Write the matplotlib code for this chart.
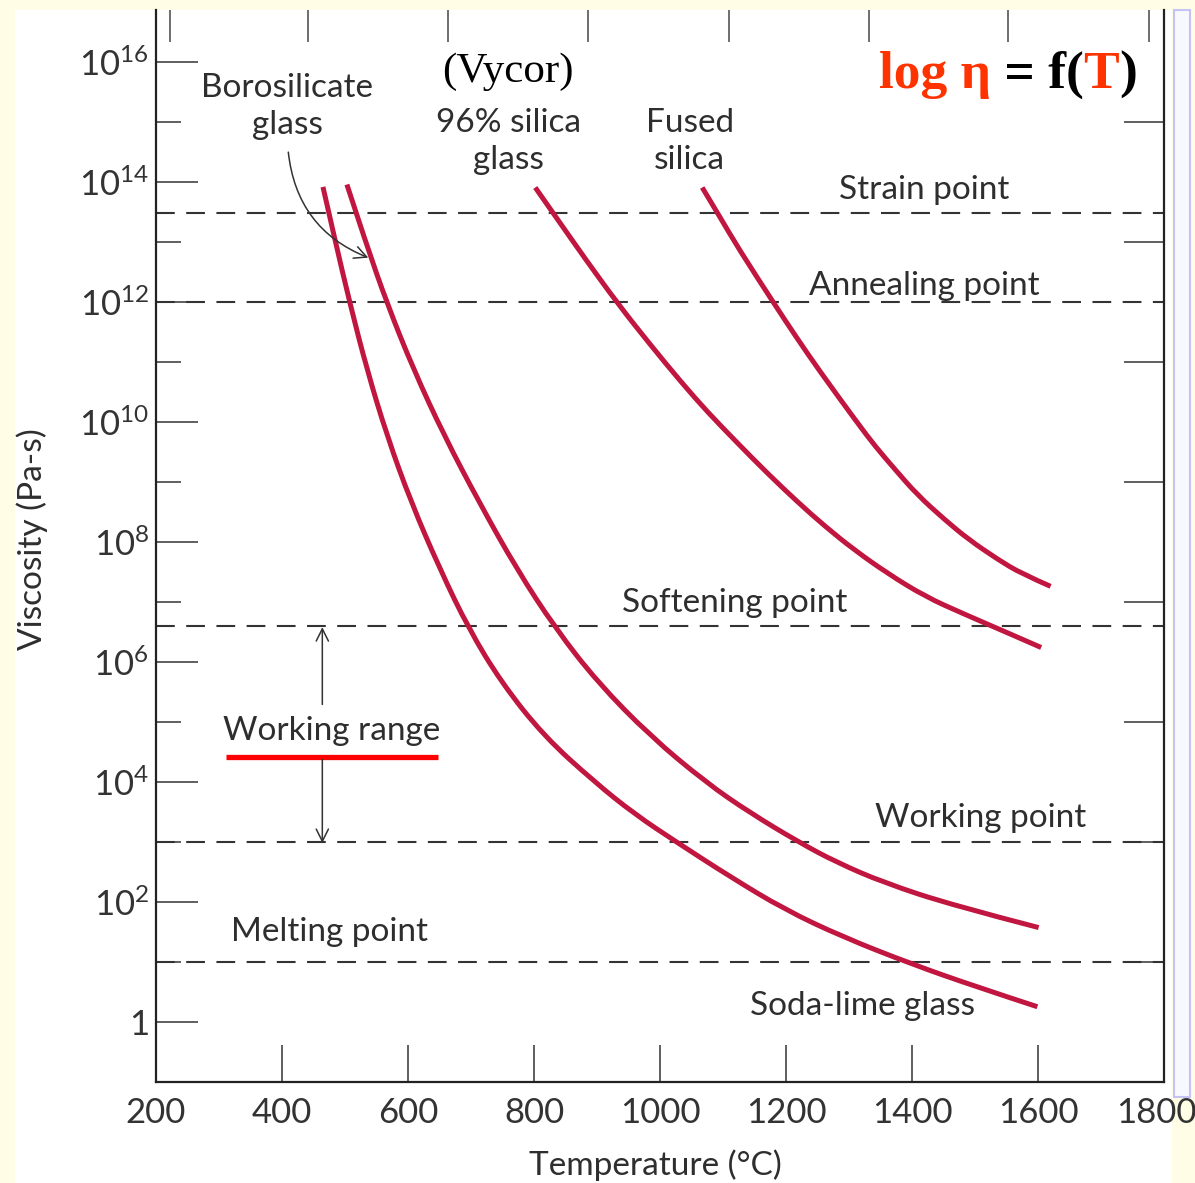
import matplotlib
matplotlib.use('Agg')
import matplotlib.pyplot as plt
import matplotlib.transforms as mtransforms
from matplotlib.patches import Rectangle, PathPatch
from matplotlib.path import Path

plt.rcParams['font.family'] = ['Lato', 'DejaVu Sans']
plt.rcParams['mathtext.fontset'] = 'custom'
plt.rcParams['mathtext.rm'] = 'Lato'

# Temperature (degC) vs log10 viscosity (Pa-s)
soda_T = [465, 484, 508, 535, 567, 605, 651, 696, 748, 816, 897, 960,
          1027, 1111, 1198, 1291, 1400, 1500, 1599]
soda_logv = [13.92, 13.04, 11.97, 10.87, 9.76, 8.66, 7.54, 6.56, 5.66, 4.76,
             3.99, 3.46, 2.99, 2.42, 1.87, 1.41, 0.96, 0.59, 0.25]

boro_T = [503, 534, 567, 609, 658, 713, 773, 834, 901, 985, 1073, 1142,
          1221, 1280, 1355, 1465, 1601]
boro_logv = [13.96, 12.96, 11.97, 10.87, 9.76, 8.66, 7.54, 6.56, 5.66, 4.76,
             3.99, 3.49, 2.99, 2.66, 2.32, 1.94, 1.57]

vycor_T = [802, 832, 882, 934, 983, 1034, 1076, 1122, 1169, 1219, 1262,
           1308, 1362, 1421, 1480, 1544, 1605]
vycor_logv = [13.91, 13.46, 12.71, 11.96, 11.31, 10.66, 10.16, 9.66, 9.16,
              8.66, 8.26, 7.87, 7.47, 7.09, 6.81, 6.52, 6.24]

fused_T = [1067, 1095, 1126, 1182, 1216, 1252, 1313, 1342, 1373, 1408,
           1452, 1490, 1536, 1574, 1620]
fused_logv = [13.91, 13.42, 12.87, 11.96, 11.42, 10.87, 9.99, 9.59, 9.21,
              8.79, 8.37, 8.04, 7.71, 7.47, 7.26]

# reference viscosity levels (log10 Pa-s)
levels = {'Strain point': 13.48, 'Annealing point': 12.0,
          'Softening point': 6.6, 'Working point': 3.0, 'Melting point': 1.0}

x_ticks = [200, 400, 600, 800, 1000, 1200, 1400, 1600, 1800]
y_major = [0, 2, 4, 6, 8, 10, 12, 14, 16]
y_minor = [1, 3, 5, 7, 9, 11, 13, 15]
top_ticks = [222, 441, 664, 886, 1109, 1331, 1553, 1776]
right_ticks = [1, 3, 5, 7, 9, 11, 13, 15]

crimson = '#c0163f'
ink = '#2e2e2e'


def smooth_curve(xs, ys):
    # quadratic bezier through the read points (points act as control points)
    verts = [(xs[0], ys[0])]
    codes = [Path.MOVETO]
    n = len(xs)
    for i in range(1, n - 1):
        if i == n - 2:
            end = (xs[-1], ys[-1])
        else:
            end = ((xs[i] + xs[i + 1]) / 2, (ys[i] + ys[i + 1]) / 2)
        verts += [(xs[i], ys[i]), end]
        codes += [Path.CURVE3, Path.CURVE3]
    return Path(verts, codes)


fig = plt.figure(figsize=(11.95, 11.83), dpi=100)
fig.patch.set_facecolor('#fffde6')
fig.patches.append(Rectangle((15 / 1195, 0), 1157 / 1195, 1173 / 1183,
                             transform=fig.transFigure, facecolor='white',
                             edgecolor='none', zorder=-10))
fig.patches.append(Rectangle((1174 / 1195, 86 / 1183), 16 / 1195, 1087 / 1183,
                             transform=fig.transFigure, facecolor='#f8f8ff',
                             edgecolor='#c4c4f4', lw=1.5, zorder=-10))

ax = fig.add_axes([156 / 1195, 1 - 1081.7 / 1183, 1008 / 1195, 1071.7 / 1183])
ax.set_facecolor('none')
ax.set_xlim(200, 1800)
ax.set_ylim(-1, 16.87)

for s in ['left', 'bottom', 'right']:
    ax.spines[s].set_linewidth(1.6)
    ax.spines[s].set_color('#222222')
ax.spines['top'].set_visible(False)

ax.set_xticks(x_ticks)
ax.set_xticklabels([str(t) for t in x_ticks])
ax.set_yticks(y_major)
ax.set_yticklabels(['1'] + [r'$\mathregular{10^{%d}}$' % v for v in y_major[1:]])
ax.set_yticks(y_minor, minor=True)
ax.tick_params(axis='x', direction='in', length=27, width=1.2, color='#444444',
               labelsize=25, labelcolor='#333333', pad=11)
ax.tick_params(axis='y', which='major', direction='in', length=30, width=1.2,
               color='#444444', labelsize=25, labelcolor='#333333', pad=5)
ax.tick_params(axis='y', which='minor', direction='in', length=18, width=1.2,
               color='#444444')

# keep the last x label inside the picture
last = ax.get_xticklabels()[-1]
last.set_transform(last.get_transform() +
                   mtransforms.ScaledTranslation(-8 / 100, 0, fig.dpi_scale_trans))

top = ax.secondary_xaxis('top')
top.set_xticks(top_ticks)
top.tick_params(direction='in', length=23, width=1.2, color='#555555', labeltop=False)
top.spines['top'].set_visible(False)

right = ax.secondary_yaxis('right')
right.set_yticks(right_ticks)
right.tick_params(direction='in', length=29, width=1.2, color='#444444', labelright=False)
right.spines['right'].set_visible(False)

# dashed reference lines
for name, lv in levels.items():
    ax.axhline(lv, color='#333333', lw=1.5, dashes=(9, 5.5))

# curves
for T, v in [(soda_T, soda_logv), (boro_T, boro_logv),
             (vycor_T, vycor_logv), (fused_T, fused_logv)]:
    ax.add_patch(PathPatch(smooth_curve(T, v), fill=False, edgecolor=crimson,
                           lw=3.6, capstyle='butt', joinstyle='round', zorder=3))

txt = dict(color=ink, fontsize=24, ha='center', va='center')
ax.text(408, 15.26, 'Borosilicate\nglass', linespacing=1.3, **txt)
ax.text(759, 14.68, '96% silica\nglass', linespacing=1.3, **txt)
ax.text(1047, 14.68, 'Fused\nsilica', linespacing=1.3, **txt)
ax.text(759, 15.84, '(Vycor)', family='Liberation Serif', color='black',
        fontsize=31, ha='center', va='center')
ax.text(1420, 13.87, 'Strain point', **txt)
ax.text(1420, 12.27, 'Annealing point', **txt)
ax.text(1118, 6.99, 'Softening point', **txt)
ax.text(478, 4.84, 'Working range', **txt)
ax.text(1509, 3.40, 'Working point', **txt)
ax.text(476, 1.49, 'Melting point', **txt)
ax.text(1322, 0.26, 'Soda-lime glass', **txt)

# red underline
ax.plot([311, 648], [4.42, 4.42], color='#ff0000', lw=3.8, solid_capstyle='butt')

# working range arrows
arr = dict(arrowstyle='->', color='#333333', lw=1.1, mutation_scale=22,
           shrinkA=0, shrinkB=0)
ax.annotate('', xy=(464, 6.58), xytext=(464, 5.29), arrowprops=arr)
ax.annotate('', xy=(464, 2.98), xytext=(464, 4.37), arrowprops=arr)
ax.annotate('', xy=(537, 12.74), xytext=(410, 14.5),
            arrowprops=dict(arr, connectionstyle='arc3,rad=0.3'))

ax.set_xlabel('Temperature (°C)', fontsize=24, color=ink)
ax.xaxis.label.set_va('center')
ax.xaxis.set_label_coords(0.495, -0.078)
ax.set_ylabel('Viscosity (Pa-s)', fontsize=24, color=ink)
ax.yaxis.label.set_va('center')
ax.yaxis.set_label_coords(-0.123, 0.506)

# log eta = f(T), pieces placed one after another
pieces = [('log η', '#ff3300'), (' = f(', 'black'), ('T', '#ff3300'), (')', 'black')]
fig.canvas.draw()
renderer = fig.canvas.get_renderer()
x_disp, y_disp = ax.transData.transform((1347, 15.57))
for s, c in pieces:
    t = ax.text(x_disp, y_disp, s, transform=None, family='Liberation Serif',
                fontweight='bold', fontsize=38.5, color=c, va='baseline', ha='left')
    x_disp = t.get_window_extent(renderer).x1

fig.savefig('out.png', dpi=100, facecolor=fig.get_facecolor())
